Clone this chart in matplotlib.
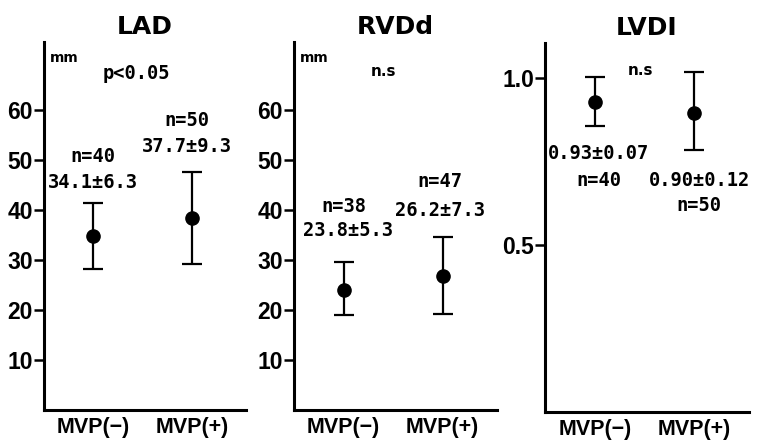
import matplotlib
matplotlib.use('Agg')
import matplotlib.pyplot as plt

# Categorias e valores
groups = ['MVP(−)', 'MVP(+)']
panel_titles = ['LAD', 'RVDd', 'LVDI']

lad_mean = [34.8, 38.4]
lad_low = [28.3, 29.2]
lad_high = [41.3, 47.6]

rvdd_mean = [24.0, 26.8]
rvdd_low = [19.0, 19.2]
rvdd_high = [29.6, 34.6]

lvdi_mean = [0.928, 0.895]
lvdi_low = [0.856, 0.784]
lvdi_high = [1.003, 1.018]

lad_labels = [('n=40', '34.1±6.3'), ('n=50', '37.7±9.3')]
rvdd_labels = [('n=38', '23.8±5.3'), ('n=47', '26.2±7.3')]
lvdi_labels = [('0.93±0.07', 'n=40'), ('0.90±0.12', 'n=50')]

mm_ticks = [10, 20, 30, 40, 50, 60]
lvdi_ticks = [0.5, 1.0]

W, H = 759, 442
fig = plt.figure(figsize=(W / 100, H / 100), dpi=100)

tick_font = {'family': 'Liberation Sans', 'weight': 'bold', 'size': 16.5}
mono = {'family': 'DejaVu Sans Mono', 'weight': 'bold', 'size': 13.5}


def make_axes(left, right, top, bottom):
    ax = fig.add_axes([left / W, 1 - bottom / H, (right - left) / W, (bottom - top) / H])
    for s in ['top', 'right']:
        ax.spines[s].set_visible(False)
    for s in ['left', 'bottom']:
        ax.spines[s].set_linewidth(2.2)
    ax.tick_params(axis='y', direction='out', length=7, width=1.8, pad=1)
    ax.tick_params(axis='x', length=0, pad=5)
    ax.set_xlim(-0.5, 1.55)
    return ax


def draw_points(ax, mean, low, high):
    x = list(range(len(mean)))
    err = [[m - l for m, l in zip(mean, low)], [h - m for m, h in zip(mean, high)]]
    ax.errorbar(x, mean, yerr=err, fmt='o', color='black', ms=9.5,
                elinewidth=1.6, capsize=7, capthick=1.6)
    ax.set_xticks(x)
    ax.set_xticklabels(groups, fontfamily='Liberation Sans', fontweight='bold', fontsize=15.5)


axes_box = [(44, 246, 42, 410), (294, 497, 42, 410), (545, 749, 43, 412)]

# LAD
ax1 = make_axes(*axes_box[0])
draw_points(ax1, lad_mean, lad_low, lad_high)
ax1.set_ylim(0, 73.6)
ax1.set_yticks(mm_ticks)
ax1.set_yticklabels([str(t) for t in mm_ticks], **tick_font)
ax1.text(0.03, 0.975, 'mm', transform=ax1.transAxes, fontsize=10, fontweight='bold', va='top')
ax1.text(0.455, 0.915, 'p<0.05', transform=ax1.transAxes, va='center', ha='center', **mono)
ax1.text(0, 50.8, lad_labels[0][0], ha='center', va='center', **mono)
ax1.text(0, 45.4, lad_labels[0][1], ha='center', va='center', **mono)
ax1.text(0.95, 57.8, lad_labels[1][0], ha='center', va='center', **mono)
ax1.text(0.95, 52.6, lad_labels[1][1], ha='center', va='center', **mono)
ax1.set_title('LAD', fontsize=18, fontweight='bold', pad=6)

# RVDd
ax2 = make_axes(*axes_box[1])
draw_points(ax2, rvdd_mean, rvdd_low, rvdd_high)
ax2.set_ylim(0, 73.6)
ax2.set_yticks(mm_ticks)
ax2.set_yticklabels([str(t) for t in mm_ticks], **tick_font)
ax2.text(0.03, 0.975, 'mm', transform=ax2.transAxes, fontsize=10, fontweight='bold', va='top')
ax2.text(0.44, 0.92, 'n.s', transform=ax2.transAxes, va='center', ha='center',
         fontsize=11, fontweight='bold')
ax2.text(0, 40.6, rvdd_labels[0][0], ha='center', va='center', **mono)
ax2.text(0.05, 36.0, rvdd_labels[0][1], ha='center', va='center', **mono)
ax2.text(0.97, 45.6, rvdd_labels[1][0], ha='center', va='center', **mono)
ax2.text(0.97, 40.0, rvdd_labels[1][1], ha='center', va='center', **mono)
ax2.set_title('RVDd', fontsize=18, fontweight='bold', pad=6)

# LVDI
ax3 = make_axes(*axes_box[2])
draw_points(ax3, lvdi_mean, lvdi_low, lvdi_high)
ax3.set_ylim(0, 1.105)
ax3.set_yticks(lvdi_ticks)
ax3.set_yticklabels(['0.5', '1.0'], **tick_font)
ax3.text(0.47, 0.925, 'n.s', transform=ax3.transAxes, va='center', ha='center',
         fontsize=11, fontweight='bold')
ax3.text(0.04, 0.775, lvdi_labels[0][0], ha='center', va='center', **mono)
ax3.text(0.04, 0.692, lvdi_labels[0][1], ha='center', va='center', **mono)
ax3.text(1.05, 0.692, lvdi_labels[1][0], ha='center', va='center', **mono)
ax3.text(1.05, 0.617, lvdi_labels[1][1], ha='center', va='center', **mono)
ax3.set_title('LVDI', fontsize=18, fontweight='bold', pad=6)

fig.savefig('out.png', dpi=100)
